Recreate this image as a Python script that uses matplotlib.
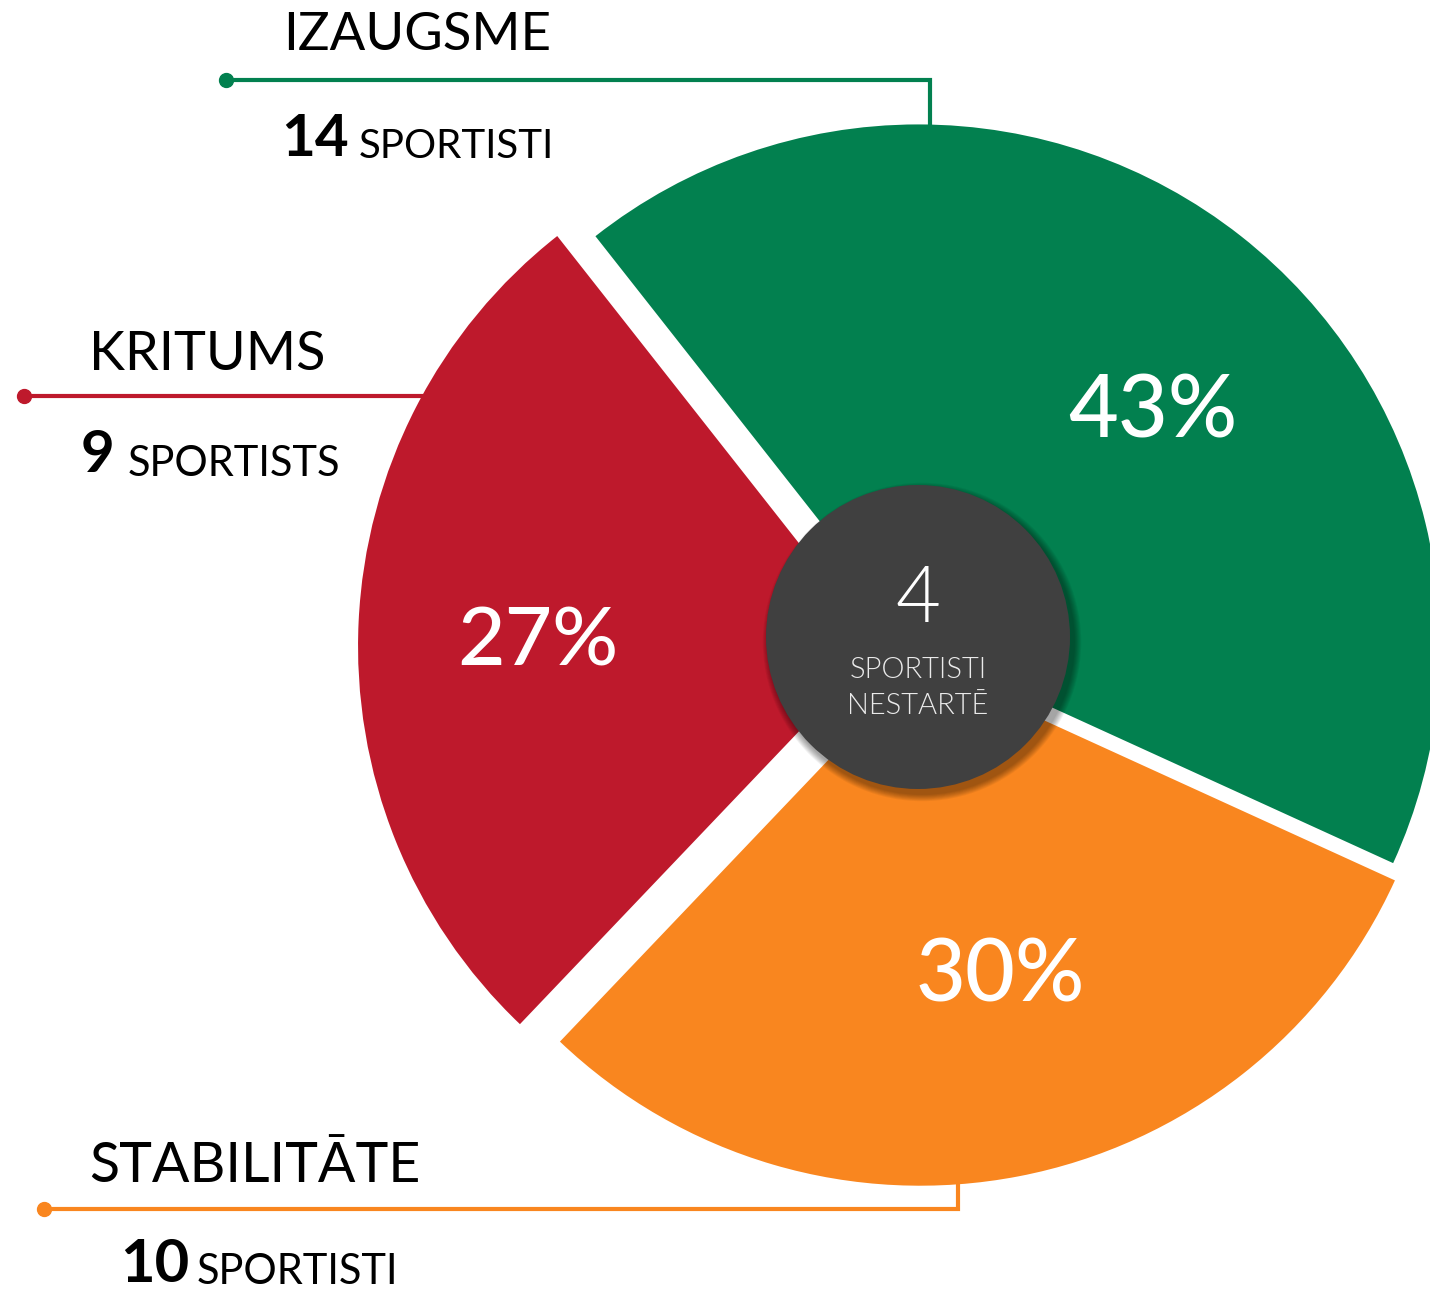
import matplotlib.pyplot as plt
from matplotlib.patches import Circle

# dati
categories = ["IZAUGSME", "STABILITĀTE", "KRITUMS"]
counts = [14, 10, 9]
percent_labels = ["43%", "30%", "27%"]
unit_labels = ["SPORTISTI", "SPORTISTI", "SPORTISTS"]
colors = ["#02804F", "#F9861F", "#BE192C"]
not_started = 4
not_started_label = "SPORTISTI\nNESTARTĒ"

plt.rcParams['font.family'] = ['Lato', 'DejaVu Sans']

W, H = 1430, 1290
fig = plt.figure(figsize=(W / 100, H / 100), dpi=100)
ax = fig.add_axes([0, 0, 1, 1])

# pie: centrs un rādiuss pikseļos (y uz augšu), explode arī pikseļos
cx, cy, R = 917, H - 648, 522
wedges, _ = ax.pie(counts, colors=colors, startangle=128.2, counterclock=False,
                   explode=[2, 16, 37], radius=R, center=(cx, cy),
                   wedgeprops=dict(linewidth=0))

ax.set_xlim(0, W)
ax.set_ylim(0, H)
ax.set_aspect('equal')
ax.axis('off')

# procenti uz sektoriem
pct_pos = [(1153, 413), (1000, 977), (538, 643)]
pct_size = [62, 62, 59]
for (x, y), txt, fs in zip(pct_pos, percent_labels, pct_size):
    ax.text(x, H - y, txt, color="white", fontsize=fs, fontweight="medium",
            ha="center", va="center")

# centrālais aplis ar ēnu
ccx, ccy, cr = 918, H - 637, 152
for k in range(8, 0, -1):
    ax.add_patch(Circle((ccx + 4, ccy - 5), cr + k * 0.9, color="black",
                        alpha=0.05, lw=0, zorder=4))
ax.add_patch(Circle((ccx, ccy), cr, color="#404040", lw=0, zorder=5))
ax.text(ccx, H - 600, str(not_started), color="white", fontsize=56,
        fontweight=300, ha="center", va="center", zorder=6)
ax.text(ccx, H - 688, not_started_label, color="#EAEAEA", fontsize=21,
        fontweight=300, ha="center", va="center", linespacing=1.5, zorder=6)

# virsraksti un līnijas
lw = 3
# IZAUGSME
ax.plot([226, 930, 930], [H - 80, H - 80, H - 126], color=colors[0], lw=lw,
        solid_joinstyle="miter")
ax.plot(226, H - 80, "o", color=colors[0], ms=10)
ax.text(283, H - 36, categories[0], fontsize=38, ha="left", va="center")
ax.text(281, H - 139, str(counts[0]), fontsize=42, fontweight="bold",
        ha="left", va="center")
ax.text(359, H - 146, unit_labels[0], fontsize=29, ha="left", va="center")

# KRITUMS
ax.plot([24, 428], [H - 396, H - 396], color=colors[2], lw=lw)
ax.plot(24, H - 396, "o", color=colors[2], ms=10)
ax.text(89, H - 354, categories[2], fontsize=39, ha="left", va="center")
ax.text(81, H - 456, str(counts[2]), fontsize=42, fontweight="bold",
        ha="left", va="center")
ax.text(128, H - 464, unit_labels[2], fontsize=30, ha="left", va="center")

# STABILITĀTE
ax.plot([44, 958, 958], [H - 1209, H - 1209, H - 1180], color=colors[1], lw=lw,
        solid_joinstyle="miter")
ax.plot(44, H - 1209, "o", color=colors[1], ms=10)
ax.text(89, H - 1167, categories[1], fontsize=40, ha="left", va="center")
ax.text(120, H - 1265, str(counts[1]), fontsize=43, fontweight="bold",
        ha="left", va="center")
ax.text(197, H - 1272, unit_labels[1], fontsize=30, ha="left", va="center")

fig.savefig("out.png", dpi=100)
